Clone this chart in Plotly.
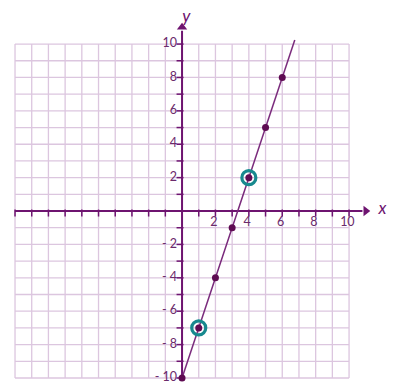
import plotly.graph_objects as go

# grid / axis values
grid_vals = list(range(-10, 11))
x_tick_labels = [2, 4, 6, 8, 10]
y_tick_labels = [10, 8, 6, 4, 2, -2, -4, -6, -8, -10]

# points on y = 3x - 10
pts_x = [0, 1, 2, 3, 4, 5, 6]
pts_y = [-10, -7, -4, -1, 2, 5, 8]
line_x = [0, 6.75]
line_y = [-10, 10.25]
ring_x = [1, 4]
ring_y = [-7, 2]

grid_col = "#dcc6df"
axis_col = "#6e1470"
lbl_col = "#6b2a6b"
teal = "#17898e"

fig = go.Figure()

# grid lines, only inside -10..10
gx, gy = [], []
for v in grid_vals:
    gx += [v, v, None]
    gy += [-10, 10, None]
    gx += [-10, 10, None]
    gy += [v, v, None]
fig.add_trace(go.Scatter(x=gx, y=gy, mode="lines", line=dict(color=grid_col, width=1.3),
                         hoverinfo="skip", showlegend=False))

# axes
fig.add_trace(go.Scatter(x=[-10, 10.8], y=[0, 0], mode="lines", line=dict(color=axis_col, width=2),
                         hoverinfo="skip", showlegend=False))
fig.add_trace(go.Scatter(x=[0, 0], y=[-10, 10.8], mode="lines", line=dict(color=axis_col, width=2),
                         hoverinfo="skip", showlegend=False))
fig.add_trace(go.Scatter(x=[11.0], y=[0], mode="markers",
                         marker=dict(symbol="triangle-right", size=9, color=axis_col),
                         hoverinfo="skip", showlegend=False))
fig.add_trace(go.Scatter(x=[0], y=[11.0], mode="markers",
                         marker=dict(symbol="triangle-up", size=9, color=axis_col),
                         hoverinfo="skip", showlegend=False))

# tick marks
ticks = [v for v in grid_vals if v != 0]
fig.add_trace(go.Scatter(x=ticks, y=[-0.12] * len(ticks), mode="markers",
                         marker=dict(symbol="line-ns", size=5, line=dict(color=axis_col, width=1.5)),
                         hoverinfo="skip", showlegend=False))
fig.add_trace(go.Scatter(x=[-0.12] * len(ticks), y=ticks, mode="markers",
                         marker=dict(symbol="line-ew", size=5, line=dict(color=axis_col, width=1.5)),
                         hoverinfo="skip", showlegend=False))

# tick labels
fig.add_trace(go.Scatter(x=[v - 0.1 for v in x_tick_labels], y=[-0.7] * len(x_tick_labels), mode="text",
                         text=[str(v) for v in x_tick_labels],
                         textfont=dict(family="Lato", size=12.5, color=lbl_col),
                         cliponaxis=False, hoverinfo="skip", showlegend=False))
fig.add_trace(go.Scatter(x=[-0.3] * len(y_tick_labels), y=y_tick_labels, mode="text",
                         text=[str(v) if v > 0 else "- " + str(-v) for v in y_tick_labels],
                         textposition="middle left",
                         textfont=dict(family="Lato", size=12.5, color=lbl_col),
                         cliponaxis=False, hoverinfo="skip", showlegend=False))

# axis names
fig.add_trace(go.Scatter(x=[12.0, 0.25], y=[0.05, 11.55], mode="text", text=["<i>x</i>", "<i>y</i>"],
                         textfont=dict(family="Lato", size=17, color=axis_col),
                         cliponaxis=False, hoverinfo="skip", showlegend=False))

# the line and points
fig.add_trace(go.Scatter(x=line_x, y=line_y, mode="lines", line=dict(color="#7a2a7c", width=1.5),
                         hoverinfo="skip", showlegend=False))
fig.add_trace(go.Scatter(x=ring_x, y=ring_y, mode="markers",
                         marker=dict(symbol="circle-open", size=14, color=teal,
                                     line=dict(color=teal, width=3.2)),
                         hoverinfo="skip", showlegend=False))
fig.add_trace(go.Scatter(x=pts_x, y=pts_y, mode="markers",
                         marker=dict(size=7, color="#5e0b52"),
                         cliponaxis=False, showlegend=False))

# page body has an 8px margin, so the figure is a bit smaller than the window
fig.update_layout(
    width=389, height=376,
    margin=dict(l=0, r=0, t=0, b=0),
    paper_bgcolor="white", plot_bgcolor="white",
    xaxis=dict(range=[-10.42, 12.87], visible=False, fixedrange=True),
    yaxis=dict(range=[-10.36, 12.16], visible=False, fixedrange=True),
)

fig.write_html("out.html")
